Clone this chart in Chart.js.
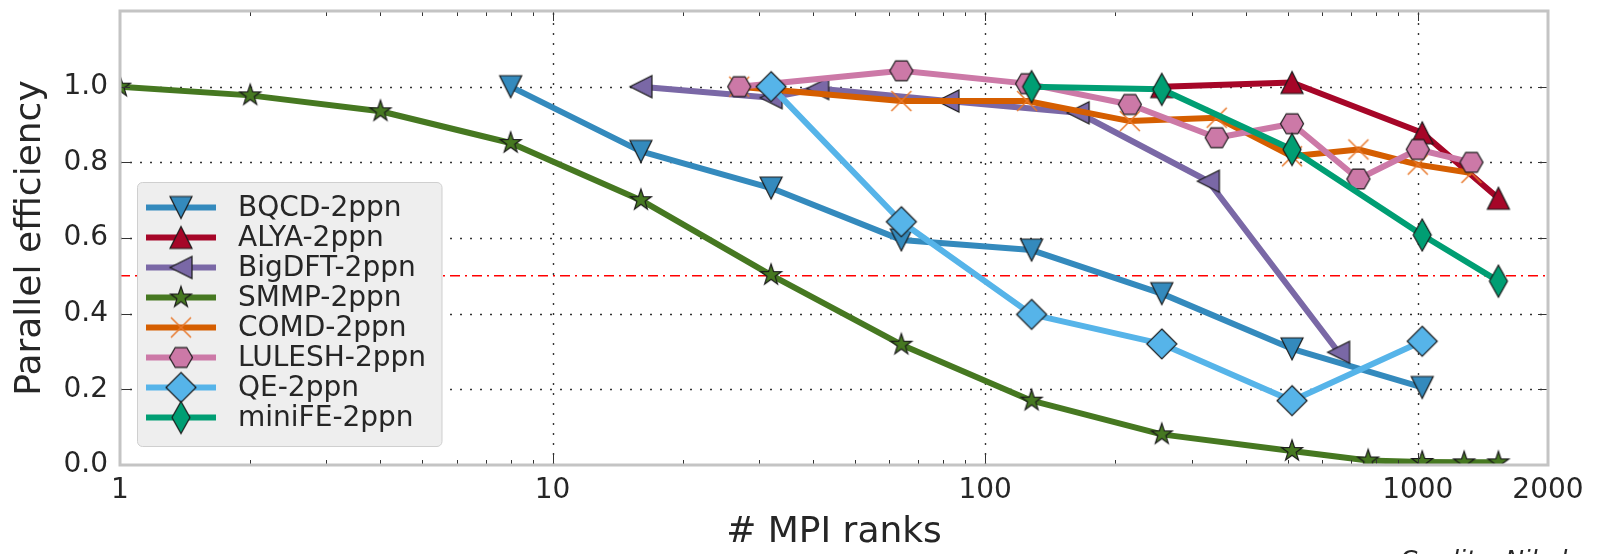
<!DOCTYPE html>
<html>
<head>
<meta charset="utf-8">
<title>Parallel efficiency</title>
<script src="https://cdn.jsdelivr.net/npm/chart.js@4.4.1/dist/chart.umd.min.js"></script>
<style>
    html, body { margin: 0; padding: 0; background: #fff; }
    #wrap { width: 1599px; height: 554px; }
</style>
</head>
<body>
<div id="wrap"><canvas id="effChart" width="1599" height="554"></canvas></div>
<script>
// values
const seriesNames = ["BQCD-2ppn", "ALYA-2ppn", "BigDFT-2ppn", "SMMP-2ppn", "COMD-2ppn", "LULESH-2ppn", "QE-2ppn", "miniFE-2ppn"];

const bqcdRanks = [8, 16, 32, 64, 128, 256, 512, 1024];
const bqcdEff = [1.0, 0.829, 0.732, 0.595, 0.568, 0.453, 0.307, 0.205];

const alyaRanks = [256, 512, 1024, 1536];
const alyaEff = [1.0, 1.011, 0.878, 0.705];

const bigdftRanks = [16, 32, 41, 82, 164, 328, 656];
const bigdftEff = [1.0, 0.971, 0.995, 0.962, 0.931, 0.75, 0.298];

const smmpRanks = [1, 2, 4, 8, 16, 32, 64, 128, 256, 512, 768, 1024, 1280, 1536];
const smmpEff = [1.0, 0.977, 0.935, 0.851, 0.70, 0.502, 0.318, 0.170, 0.081, 0.037, 0.012, 0.008, 0.007, 0.007];

const comdRanks = [27, 64, 125, 216, 343, 512, 729, 1000, 1331];
const comdEff = [1.0, 0.962, 0.962, 0.909, 0.918, 0.816, 0.834, 0.794, 0.772];

const luleshRanks = [27, 64, 125, 216, 343, 512, 729, 1000, 1331];
const luleshEff = [1.0, 1.042, 1.008, 0.953, 0.865, 0.902, 0.756, 0.834, 0.80];

const qeRanks = [32, 64, 128, 256, 512, 1024];
const qeEff = [1.0, 0.643, 0.398, 0.320, 0.170, 0.327];

const minifeRanks = [128, 256, 512, 1024, 1536];
const minifeEff = [1.0, 0.993, 0.834, 0.608, 0.486];

// 50% reference line
const refRanks = [1, 2000];
const refEff = [0.5, 0.5];

const xTicks = [1, 10, 100, 1000, 2000];
const yTicks = [0.0, 0.2, 0.4, 0.6, 0.8, 1.0];

const FONT = "'DejaVu Sans', sans-serif";
const TEXT = "#262626";

// marker images, drawn like matplotlib ones
function makeMarker(shape, fill) {
    const c = document.createElement("canvas");
    c.width = 40;
    c.height = 40;
    const g = c.getContext("2d");
    g.translate(20, 20);
    g.beginPath();
    if (shape === "down") {
        g.moveTo(-11, -11); g.lineTo(11, -11); g.lineTo(0, 11); g.closePath();
    } else if (shape === "up") {
        g.moveTo(0, -11); g.lineTo(11, 11); g.lineTo(-11, 11); g.closePath();
    } else if (shape === "left") {
        g.moveTo(-11, 0); g.lineTo(11, -11); g.lineTo(11, 11); g.closePath();
    } else if (shape === "star") {
        for (let i = 0; i < 10; i++) {
            const r = i % 2 === 0 ? 11 : 4.3;
            const a = -Math.PI / 2 + i * Math.PI / 5;
            if (i === 0) g.moveTo(r * Math.cos(a), r * Math.sin(a));
            else g.lineTo(r * Math.cos(a), r * Math.sin(a));
        }
        g.closePath();
    } else if (shape === "hex") {
        for (let i = 0; i < 6; i++) {
            const a = i * Math.PI / 3;
            if (i === 0) g.moveTo(11.5 * Math.cos(a), 11.5 * Math.sin(a));
            else g.lineTo(11.5 * Math.cos(a), 11.5 * Math.sin(a));
        }
        g.closePath();
    } else if (shape === "diamond") {
        g.moveTo(0, -15); g.lineTo(15, 0); g.lineTo(0, 15); g.lineTo(-15, 0); g.closePath();
    } else if (shape === "thin") {
        g.moveTo(0, -16); g.lineTo(9, 0); g.lineTo(0, 16); g.lineTo(-9, 0); g.closePath();
    } else if (shape === "x") {
        g.moveTo(-10, -10); g.lineTo(10, 10);
        g.moveTo(10, -10); g.lineTo(-10, 10);
        g.strokeStyle = fill;
        g.lineWidth = 1.5;
        g.stroke();
        return c;
    }
    g.fillStyle = fill;
    g.fill();
    g.lineWidth = 1.2;
    g.strokeStyle = "#1a1a1a";
    g.stroke();
    return c;
}

const series = [
    { name: seriesNames[0], x: bqcdRanks, y: bqcdEff, color: "#348ABD", marker: makeMarker("down", "#348ABD") },
    { name: seriesNames[1], x: alyaRanks, y: alyaEff, color: "#A60628", marker: makeMarker("up", "#A60628") },
    { name: seriesNames[2], x: bigdftRanks, y: bigdftEff, color: "#7A68A6", marker: makeMarker("left", "#7A68A6") },
    { name: seriesNames[3], x: smmpRanks, y: smmpEff, color: "#467821", marker: makeMarker("star", "#467821") },
    { name: seriesNames[4], x: comdRanks, y: comdEff, color: "#D55E00", marker: makeMarker("x", "#E8782A") },
    { name: seriesNames[5], x: luleshRanks, y: luleshEff, color: "#CC79A7", marker: makeMarker("hex", "#CC79A7") },
    { name: seriesNames[6], x: qeRanks, y: qeEff, color: "#56B4E9", marker: makeMarker("diamond", "#56B4E9") },
    { name: seriesNames[7], x: minifeRanks, y: minifeEff, color: "#009E73", marker: makeMarker("thin", "#009E73") }
];

const datasets = series.map((s, i) => ({
    label: s.name,
    data: s.x.map((v, j) => ({ x: v, y: s.y[j] })),
    borderColor: s.color,
    backgroundColor: s.color,
    borderWidth: 6,
    borderJoinStyle: "round",
    tension: 0,
    fill: false,
    pointStyle: s.marker,
    pointRadius: 10,
    order: series.length - i,
    clip: 0
}));

datasets.push({
    label: "ref",
    data: refRanks.map((v, j) => ({ x: v, y: refEff[j] })),
    borderColor: "#ff0000",
    borderWidth: 1.5,
    borderDash: [10, 5, 2, 5],
    pointRadius: 0,
    fill: false,
    order: 99,
    clip: 0
});

// keep the plot box where the reference has it
const noPadding = () => ({ left: 0, top: 0, right: 0, bottom: 0 });

// grid, frame, inward ticks, legend box and credit line
const decor = {
    id: "decor",
    beforeDatasetsDraw(chart) {
        const { ctx, chartArea: a, scales: { x, y } } = chart;
        ctx.save();
        ctx.strokeStyle = "#333";
        ctx.lineWidth = 1.4;
        ctx.setLineDash([2, 8]);
        xTicks.filter(v => v > x.min && v < x.max).forEach(v => {
            const px = Math.round(x.getPixelForValue(v)) + 0.5;
            ctx.beginPath(); ctx.moveTo(px, a.bottom); ctx.lineTo(px, a.top); ctx.stroke();
        });
        yTicks.filter(v => v > y.min && v < y.max).forEach(v => {
            const py = Math.round(y.getPixelForValue(v)) + 0.5;
            ctx.beginPath(); ctx.moveTo(a.left, py); ctx.lineTo(a.right, py); ctx.stroke();
        });
        ctx.restore();
    },
    afterDatasetsDraw(chart) {
        const { ctx, chartArea: a, scales: { x, y } } = chart;
        ctx.save();
        ctx.strokeStyle = "#333";
        ctx.lineWidth = 1;
        const tick = (x1, y1, x2, y2) => { ctx.beginPath(); ctx.moveTo(x1, y1); ctx.lineTo(x2, y2); ctx.stroke(); };
        xTicks.forEach(v => {
            const px = Math.round(x.getPixelForValue(v)) + 0.5;
            tick(px, a.bottom, px, a.bottom - 10);
            tick(px, a.top, px, a.top + 10);
        });
        for (let d = 1; d < x.max; d *= 10) {
            for (let k = 2; k < 10; k++) {
                if (k * d >= x.max) break;
                const px = Math.round(x.getPixelForValue(k * d)) + 0.5;
                tick(px, a.bottom, px, a.bottom - 5);
                tick(px, a.top, px, a.top + 5);
            }
        }
        yTicks.forEach(v => {
            const py = Math.round(y.getPixelForValue(v)) + 0.5;
            tick(a.left, py, a.left + 10, py);
            tick(a.right, py, a.right - 10, py);
        });
        ctx.strokeStyle = "#c4c4c4";
        ctx.lineWidth = 3;
        ctx.strokeRect(a.left, a.top, a.right - a.left, a.bottom - a.top);
        ctx.restore();
    },
    afterDraw(chart) {
        const ctx = chart.ctx;
        ctx.save();
        const bx = 137.5, by = 182.5, bw = 304.5, bh = 264, r = 5;
        ctx.beginPath();
        ctx.moveTo(bx + r, by);
        ctx.arcTo(bx + bw, by, bx + bw, by + bh, r);
        ctx.arcTo(bx + bw, by + bh, bx, by + bh, r);
        ctx.arcTo(bx, by + bh, bx, by, r);
        ctx.arcTo(bx, by, bx + bw, by, r);
        ctx.closePath();
        ctx.fillStyle = "#eeeeee";
        ctx.fill();
        ctx.strokeStyle = "#cfcfcf";
        ctx.lineWidth = 1;
        ctx.stroke();
        series.forEach((s, i) => {
            const ry = 207.5 + i * 30;
            ctx.strokeStyle = s.color;
            ctx.lineWidth = 6;
            ctx.beginPath(); ctx.moveTo(146, ry); ctx.lineTo(216, ry); ctx.stroke();
            ctx.drawImage(s.marker, 181 - s.marker.width / 2, ry - s.marker.height / 2);
            ctx.fillStyle = TEXT;
            ctx.font = "28px " + FONT;
            ctx.textBaseline = "middle";
            ctx.fillText(s.name, 238, ry + 1);
        });
        ctx.fillStyle = TEXT;
        ctx.font = "italic 25px " + FONT;
        ctx.textBaseline = "alphabetic";
        ctx.fillText("Credits: Nikola", 1400, 568);
        ctx.restore();
    }
};

const effCtx = document.getElementById("effChart").getContext("2d");
const effChart = new Chart(effCtx, {
    type: "line",
    data: { datasets: datasets },
    options: {
        responsive: false,
        animation: false,
        devicePixelRatio: 1,
        layout: { autoPadding: false, padding: { left: 0, right: 51, top: 11, bottom: 0 } },
        plugins: { legend: { display: false }, tooltip: { enabled: false } },
        scales: {
            x: {
                type: "logarithmic",
                min: 1,
                max: 2000,
                afterBuildTicks: s => { s.ticks = xTicks.map(v => ({ value: v })); },
                afterFit: s => { s.height = 89; s.getPadding = noPadding; },
                grid: { display: false, drawTicks: false },
                border: { display: false },
                ticks: {
                    font: { family: FONT, size: 28 },
                    color: TEXT,
                    padding: 9,
                    maxRotation: 0,
                    autoSkip: false,
                    callback: v => String(v)
                },
                title: {
                    display: true,
                    text: "# MPI ranks",
                    font: { family: FONT, size: 36 },
                    color: TEXT,
                    padding: { top: 0, bottom: 0 }
                }
            },
            y: {
                min: 0,
                max: 1.2,
                afterBuildTicks: s => { s.ticks = yTicks.map(v => ({ value: v })); },
                afterFit: s => { s.width = 120; s.getPadding = noPadding; },
                grid: { display: false, drawTicks: false },
                border: { display: false },
                ticks: {
                    font: { family: FONT, size: 28 },
                    color: TEXT,
                    padding: 12,
                    callback: v => Number(v).toFixed(1)
                },
                title: {
                    display: true,
                    text: "Parallel efficiency",
                    font: { family: FONT, size: 36 },
                    color: TEXT,
                    padding: { top: 9, bottom: 0 }
                }
            }
        }
    },
    plugins: [decor]
});
</script>
</body>
</html>
